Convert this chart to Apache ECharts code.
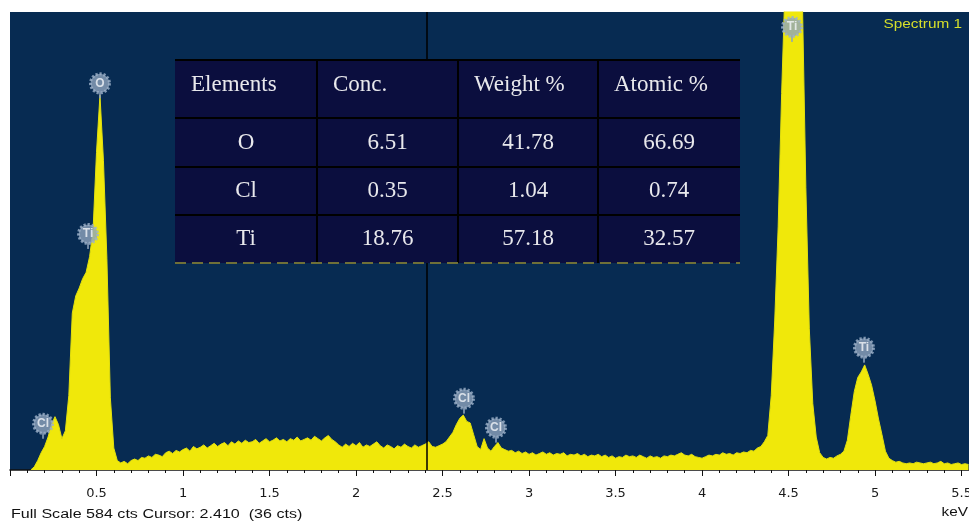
<!DOCTYPE html>
<html>
<head>
<meta charset="utf-8">
<script src="https://cdn.jsdelivr.net/npm/echarts@6/dist/echarts.min.js"></script>
<style>
html,body{margin:0;padding:0;background:#ffffff;}
#chart{width:969px;height:522px;}
</style>
</head>
<body>
<div id="chart"></div>
<script>
// ---- data ----
const energyStart = 0.12;   // keV of first channel
const energyStep = 0.02;    // keV per channel
const counts = [
  0,4,12,22,30,42,58,68,58,40,            // 0.12-0.30
  50,95,200,222,232,244,252,272,305,405,  // 0.32-0.50
  478,395,270,92,28,12,9,11,8,12,         // 0.52-0.70
  14,12,16,15,18,16,20,19,17,22,          // 0.72-0.90
  24,21,25,23,26,28,24,30,27,29,          // 0.92-1.10
  32,28,31,34,30,33,35,31,36,33,          // 1.12-1.30
  37,34,38,35,36,39,34,37,40,36,          // 1.32-1.50
  38,41,37,39,36,40,38,42,37,39,          // 1.52-1.70
  41,38,43,40,37,41,44,39,36,32,          // 1.72-1.90
  29,33,30,34,31,35,29,32,30,33,          // 1.92-2.10
  36,31,28,32,30,27,31,29,33,30,          // 2.12-2.30
  28,32,29,31,33,36,30,29,31,33,          // 2.32-2.50
  36,42,48,58,66,70,62,60,45,30,          // 2.52-2.70
  26,40,28,24,30,35,28,26,24,25,          // 2.72-2.90
  22,24,21,23,20,22,19,21,23,20,          // 2.92-3.10
  22,19,21,20,22,18,20,19,21,18,          // 3.12-3.30
  20,17,19,18,20,17,19,16,18,15,          // 3.32-3.50
  17,16,19,17,18,16,19,17,15,18,          // 3.52-3.70
  16,17,15,18,17,19,18,20,22,19,          // 3.72-3.90
  18,20,17,16,15,17,19,18,20,19,          // 3.92-4.10
  22,20,21,19,22,21,23,22,25,24,          // 4.12-4.30
  28,30,36,44,95,190,310,480,620,680,     // 4.32-4.50
  700,690,660,600,360,180,85,42,22,16,    // 4.52-4.70
  14,16,15,18,20,24,38,70,100,118,        // 4.72-4.90
  125,134,122,108,88,65,45,24,15,12,      // 4.92-5.10
  10,11,9,8,9,8,10,9,8,9,                 // 5.12-5.30
  10,8,9,11,8,9,7,8,9,7,                  // 5.32-5.50
  8,7                                     // 5.52-5.54
];
const markerElement = ['Cl','Ti','O','Cl','Cl','Ti','Ti'];
const markerEnergy  = [0.191,0.451,0.520,2.624,2.809,4.520,4.936];
const markerCounts  = [59,301,493,91,54,565,156];

const tableHeader   = ['Elements','Conc.','Weight %','Atomic %'];
const tableElements = ['O','Cl','Ti'];
const tableConc     = ['6.51','0.35','18.76'];
const tableWeight   = ['41.78','1.04','57.18'];
const tableAtomic   = ['66.69','0.74','32.57'];

const fullScale = 584;
const cursorKeV = 2.410;
const cursorCounts = 36;
const spectrumName = 'Spectrum 1';
const axisUnit = 'keV';

// ---- build ----
const spectrum = counts.map((c, i) => [+(energyStart + i * energyStep).toFixed(2), c]);
const markers = markerEnergy.map((e, i) => ({ value: [e, markerCounts[i]], name: markerElement[i] }));

// table layout (pixels)
const colX = [175, 317, 458, 598, 740];
const rowY = [60, 118, 167, 215, 263];
const serif = '23px "Liberation Serif", "Times New Roman", serif';
const tableText = '#e8e8ec';
const graphics = [];
graphics.push({ type: 'rect', z: 100, shape: { x: colX[0], y: rowY[0], width: colX[4] - colX[0], height: rowY[4] - rowY[0] }, style: { fill: '#0b0e3e' } });
for (let r = 0; r < 4; r++) {
  graphics.push({ type: 'line', z: 101, shape: { x1: colX[0], y1: rowY[r], x2: colX[4], y2: rowY[r] }, style: { stroke: '#000000', lineWidth: 2 } });
}
for (let c = 1; c < 4; c++) {
  graphics.push({ type: 'line', z: 101, shape: { x1: colX[c], y1: rowY[0], x2: colX[c], y2: rowY[4] }, style: { stroke: '#000000', lineWidth: 2 } });
}
graphics.push({ type: 'line', z: 101, shape: { x1: colX[0], y1: rowY[4], x2: colX[4], y2: rowY[4] }, style: { stroke: '#6f7038', lineWidth: 2, lineDash: [11, 6] } });
tableHeader.forEach((h, c) => {
  graphics.push({ type: 'text', z: 102, style: { text: h, x: colX[c] + 16, y: 85, fill: tableText, font: serif, textAlign: 'left', textVerticalAlign: 'middle' } });
});
const rows = tableElements.map((e, i) => [e, tableConc[i], tableWeight[i], tableAtomic[i]]);
rows.forEach((row, r) => {
  row.forEach((v, c) => {
    graphics.push({ type: 'text', z: 102, style: { text: v, x: (colX[c] + colX[c + 1]) / 2, y: (rowY[r + 1] + rowY[r + 2]) / 2, fill: tableText, font: serif, textAlign: 'center', textVerticalAlign: 'middle' } });
  });
});
// captions
graphics.push({ type: 'text', z: 50, x: 962, y: 24, scaleX: 1.18, style: { text: spectrumName, fill: '#d6df2a', font: '13px "Liberation Sans", Arial, sans-serif', textAlign: 'right', textVerticalAlign: 'middle' } });
graphics.push({ type: 'text', z: 50, x: 11, y: 515, scaleX: 1.34, style: { text: 'Full Scale ' + fullScale + ' cts Cursor: ' + cursorKeV.toFixed(3) + '  (' + cursorCounts + ' cts)', fill: '#111111', font: '12px "Liberation Sans", Arial, sans-serif', textAlign: 'left', textVerticalAlign: 'middle' } });
graphics.push({ type: 'text', z: 50, x: 968, y: 513, scaleX: 1.28, style: { text: axisUnit, fill: '#111111', font: '12px "Liberation Sans", Arial, sans-serif', textAlign: 'right', textVerticalAlign: 'middle' } });

const chart = echarts.init(document.getElementById('chart'), null, { renderer: 'canvas' });
chart.setOption({
  animation: false,
  backgroundColor: '#ffffff',
  grid: { left: 10, right: 0, top: 12, bottom: 52, show: true, backgroundColor: '#072b52', borderWidth: 0, containLabel: false, outerBoundsMode: 'none' },
  xAxis: {
    type: 'value', min: 0, max: 5.543, interval: 0.5,
    axisLine: { show: true, onZero: false, lineStyle: { color: '#111', width: 1.5 } },
    axisTick: { show: true, length: 6, lineStyle: { color: '#111', width: 1 } },
    minorTick: { show: true, splitNumber: 5, length: 3, lineStyle: { color: '#111', width: 1 } },
    splitLine: { show: false },
    axisLabel: {
      margin: 17, color: '#1a1a1a', fontSize: 13, fontFamily: '"DejaVu Sans", Verdana, sans-serif', hideOverlap: false,
      formatter: v => (v > 0 && Math.abs(v * 2 - Math.round(v * 2)) < 1e-6) ? String(Math.round(v * 10) / 10) : ''
    }
  },
  yAxis: { type: 'value', min: 0, max: fullScale, show: false, splitLine: { show: false } },
  series: [
    {
      type: 'line', data: spectrum, showSymbol: false, clip: true,
      lineStyle: { color: '#e2e00e', width: 1 },
      areaStyle: { color: '#f0e80a', opacity: 1 },
      markLine: {
        silent: true, symbol: 'none', label: { show: false },
        lineStyle: { color: '#000000', width: 1.5, type: 'solid' },
        data: [{ xAxis: cursorKeV }]
      },
      z: 2
    },
    {
      type: 'scatter', data: markers, symbol: 'rect', symbolSize: [2, 6], symbolOffset: [0, 12],
      itemStyle: { color: '#8da3bc' }, silent: true, z: 3
    },
    {
      type: 'scatter', data: markers, symbol: 'circle', symbolSize: 19,
      itemStyle: { color: '#8ea4bd', borderColor: '#9db2c9', borderWidth: 3, borderType: [2.2, 1.8] },
      label: { show: true, position: 'inside', formatter: p => p.name, color: '#f2f5f9', fontSize: 12, fontWeight: 'bold', fontFamily: '"Liberation Sans", Arial, sans-serif' },
      silent: true, z: 4
    }
  ],
  graphic: graphics
});
</script>
</body>
</html>
